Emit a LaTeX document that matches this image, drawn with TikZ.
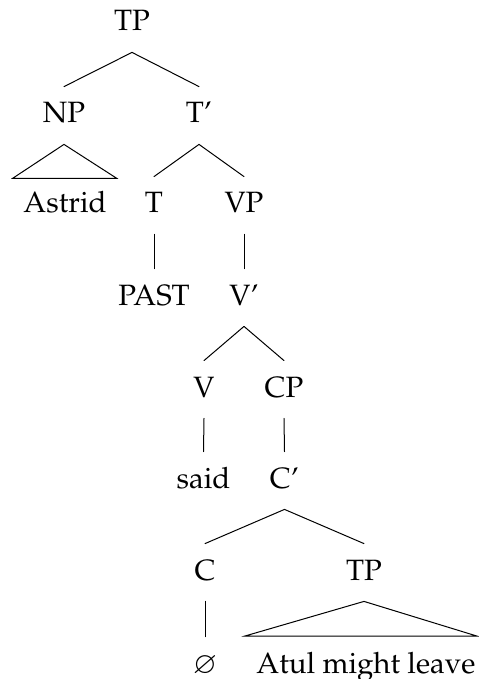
\documentclass[tikz,border=0pt]{standalone}
\usepackage[T1]{fontenc}
\usepackage{mathpazo}
\usepackage{amssymb}
\begin{document}
\begin{tikzpicture}[x=0.5pt,y=-0.5pt,
  lbl/.style={anchor=base,inner xsep=0pt,inner ysep=0pt,text height=18pt,text depth=10.5pt,font=\fontsize{14.7}{17}\selectfont},
  edge/.style={line width=0.5pt,line cap=round}]
\useasboundingbox (0,0) rectangle (478,679);
\node[lbl] (tp1) at (132,31) {TP};
\node[lbl] (np) at (64,123) {NP};
\node[lbl] (tbar) at (199,123) {T\textquoteright};
\node[lbl] (astrid) at (65,213) {Astrid};
\node[lbl] (t) at (154,213) {T};
\node[lbl] (vp) at (244,213) {VP};
\node[lbl] (past) at (154,305) {PAST};
\node[lbl] (vbar) at (244,305) {V\textquoteright};
\node[lbl] (v) at (204,397) {V};
\node[lbl] (cp) at (284,397) {CP};
\node[lbl] (said) at (203.5,488) {said};
\node[lbl] (cbar) at (284.5,488) {C\textquoteright};
\node[lbl] (c) at (205,580) {C};
\node[lbl] (tp2) at (364,580) {TP};
\node[lbl] (null) at (205,673) {$\varnothing$};
\node[lbl] (atul) at (366,673) {Atul might leave};
\coordinate (a1) at (12.7,178.3);
\coordinate (a2) at (116.7,178.3);
\coordinate (b1) at (245,636);
\coordinate (b2) at (476.7,636);
\draw[edge] (tp1.south) -- (np.north);
\draw[edge] (tp1.south) -- (tbar.north);
\draw[edge] (np.south) -- (a1) -- (a2) -- cycle;
\draw[edge] (tbar.south) -- (t.north);
\draw[edge] (tbar.south) -- (vp.north);
\draw[edge] (t.south) -- (past.north);
\draw[edge] (vp.south) -- (vbar.north);
\draw[edge] (vbar.south) -- (v.north);
\draw[edge] (vbar.south) -- (cp.north);
\draw[edge] (v.south) -- (said.north);
\draw[edge] (cp.south) -- (cbar.north);
\draw[edge] (cbar.south) -- (c.north);
\draw[edge] (cbar.south) -- (tp2.north);
\draw[edge] (c.south) -- (null.north);
\draw[edge] (tp2.south) -- (b1) -- (b2) -- cycle;
\end{tikzpicture}
\end{document}
